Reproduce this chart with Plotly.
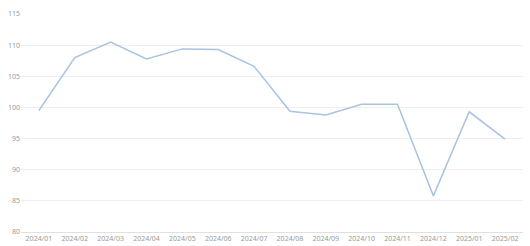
import plotly.graph_objects as go

categories = ["2024/01", "2024/02", "2024/03", "2024/04", "2024/05", "2024/06", "2024/07",
              "2024/08", "2024/09", "2024/10", "2024/11", "2024/12", "2025/01", "2025/02"]
values = [99.5, 108.0, 110.5, 107.8, 109.4, 109.3, 106.6, 99.4, 98.8, 100.5, 100.5, 85.8, 99.3, 94.9]
y_ticks = [80, 85, 90, 95, 100, 105, 110, 115]

fig = go.Figure()
fig.add_trace(go.Scatter(
    x=list(range(len(categories))), y=values, mode="lines",
    line=dict(color="#a9c3e3", width=1.5),
    hoverinfo="skip"
))
fig.update_layout(
    width=530, height=246,
    margin=dict(l=21, r=7, t=14, b=14, autoexpand=False),
    paper_bgcolor="white", plot_bgcolor="white",
    showlegend=False,
    font=dict(family="Noto Sans", size=7, color="#9a9a9a"),
)
fig.update_xaxes(
    range=[-0.5, len(categories) - 0.5],
    tickmode="array", tickvals=list(range(len(categories))), ticktext=categories,
    showgrid=False, zeroline=False, automargin=False,
    showline=True, linecolor="#e0e0e0", linewidth=1,
    ticks="", ticklen=0,
)
fig.update_yaxes(
    range=[80, 115], tickmode="array", tickvals=y_ticks,
    showgrid=True, gridcolor="#efefef", gridwidth=1, automargin=False,
    zeroline=False, showline=False, ticks="",
)
fig.write_html("out.html")
